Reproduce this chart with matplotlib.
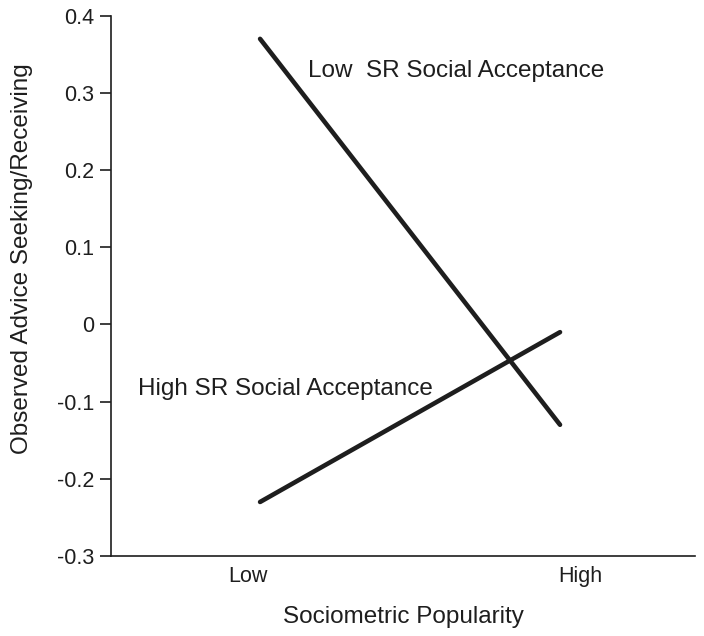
import matplotlib
matplotlib.use('Agg')
import matplotlib.pyplot as plt

# data
popularity_levels = ['Low', 'High']
low_sr_acceptance = [0.37, -0.13]
high_sr_acceptance = [-0.23, -0.01]
y_ticks = [-0.3, -0.2, -0.1, 0.0, 0.1, 0.2, 0.3, 0.4]
y_tick_labels = ['-0.3', '-0.2', '-0.1', '0', '0.1', '0.2', '0.3', '0.4']

plt.rcParams['font.family'] = ['Liberation Sans', 'DejaVu Sans']
ink = '#1e1e1e'

fig = plt.figure(figsize=(7.04, 6.36), dpi=100)
ax = fig.add_axes([111 / 704, 80 / 636, 584 / 704, 540.3 / 636])

x = [0, 1]
ax.plot(x, low_sr_acceptance, color=ink, lw=3.3, solid_capstyle='round')
ax.plot(x, high_sr_acceptance, color=ink, lw=3.3, solid_capstyle='round')

ax.text(0.16, 0.328, 'Low  SR Social Acceptance', fontsize=17.5, color=ink, va='center')
ax.text(-0.407, -0.084, 'High SR Social Acceptance', fontsize=17.5, color=ink, va='center')

ax.set_xlim(-0.497, 1.45)
ax.set_ylim(-0.3, 0.4)
ax.set_yticks(y_ticks)
ax.set_yticklabels(y_tick_labels)
ax.set_xticks([-0.04, 1.067])
ax.set_xticklabels(popularity_levels)

ax.tick_params(axis='y', length=8, width=1.2, color=ink, labelsize=15.5, labelcolor=ink, pad=4)
ax.tick_params(axis='x', length=0, labelsize=15.5, labelcolor=ink, pad=7)

for side in ['top', 'right']:
    ax.spines[side].set_visible(False)
for side in ['left', 'bottom']:
    ax.spines[side].set_color(ink)
    ax.spines[side].set_linewidth(1.2)

ax.set_xlabel('Sociometric Popularity', fontsize=17.5, color=ink, labelpad=14)
ax.set_ylabel('Observed Advice Seeking/Receiving', fontsize=17.5, color=ink)
ax.yaxis.set_label_coords(-0.134, 0.551)

fig.savefig('out.png', dpi=100)
